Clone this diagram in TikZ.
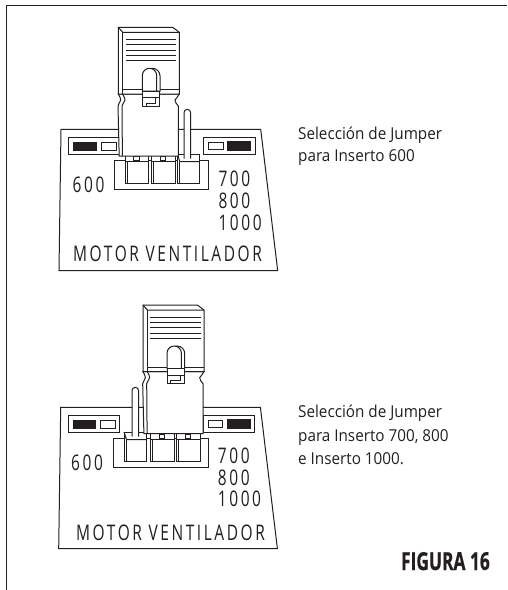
\documentclass[tikz,border=0pt]{standalone}
\usepackage{fontspec}
\setmainfont{Open Sans}
\newfontfamily\labelfont[FakeStretch=0.72,LetterSpace=12]{Open Sans}
\newfontfamily\notefont[FakeStretch=0.93]{Open Sans}
\newfontfamily\figfont[FakeStretch=0.70,BoldFeatures={FakeBold=0.6}]{Open Sans}
\definecolor{ink}{HTML}{231F20}
\tikzset{
  ln/.style={draw=ink,line width=1pt,line join=miter},
  thin ln/.style={draw=ink,line width=0.8pt},
  heavy/.style={draw=ink,line width=1.4pt},
  wf/.style={ln,fill=white},
  blk/.style={fill=ink,draw=ink,line width=0.7pt},
  boardtxt/.style={inner sep=0pt,anchor=base west,text=ink,font=\labelfont\fontsize{21.5}{21.5}\selectfont},
  note/.style={inner sep=0pt,anchor=base west,text=ink,font=\notefont\fontsize{16.4}{18}\selectfont},
}
\newcommand{\plainblock}[1]{%
  \begin{scope}[shift={(#1,0)}]
    \path[wf] (0,155) rectangle (23.5,183.3);
    \draw[ln] (2.2,161) -- (2.2,183.3);
    \draw[ln] (0,161) -- (23.5,161);
    \path[wf] (8.5,156.5) rectangle (14,160);
  \end{scope}}
% #1 block x, #2 pin x inside the block
\newcommand{\pinblock}[2]{%
  \begin{scope}[shift={(#1,0)}]
    \path[wf] (0,154) -- (22,154) -- (22,183.3) -- (0,183.3) -- cycle;
    \draw[ln] (0,154) -- (2.5,161.5) -- (22,161.5);
    \draw[ln] (2.5,161.5) -- (2.5,183.3);
    \path[wf] (#2,158.5) -- (#2,112.6) arc[start angle=180,end angle=360,radius=3.3] -- ++(0,45.9);
  \end{scope}}
\newcommand{\jumper}[1]{%
  \begin{scope}[shift={(#1)}]
    % lower body
    \path[wf] (118.3,94) .. controls (119,97) and (121.5,98) .. (120.7,100)
       .. controls (120,103) and (118,104) .. (118,106) -- (119.2,156) -- (178.3,156)
       -- (178.3,106) .. controls (177,104) and (174.5,102) .. (175,100)
       .. controls (175.5,98) and (178.5,97) .. (179.3,94) -- cycle;
    \draw[ln] (122.7,94) .. controls (123.4,97) and (125.5,98) .. (125,100)
       .. controls (124.5,103) and (122,104) .. (122,106) -- (122.4,156);
    % upper body
    \path[wf] (118.3,27.3) -- (172.7,27.3) -- (179.3,32.3) -- (179.3,94) -- (118.3,94) -- cycle;
    \draw[ln] (118.3,27.3) -- (122.7,32.3) -- (179.3,32.3);
    \draw[ln] (122.7,32.3) -- (122.7,94);
    \draw[ln] (122.7,89.3) -- (179.3,89.3);
    \foreach \yy in {39.3,44.7,50,55.3,60.7}
      \draw[thin ln] (125.7,\yy) -- (176.3,\yy);
    % loop
    \path[wf] (145,91) -- (145,75.8) arc[start angle=180,end angle=360,radius=7.5] -- (160,91) -- cycle;
    \path[wf] (142.3,91) -- (142.3,75.5) arc[start angle=180,end angle=360,radius=7.2] -- (156.7,91) -- cycle;
    % tab
    \path[wf] (142.7,91) rectangle (159.3,106);
    \draw[ln] (142.7,97.3) -- (159.3,97.3);
    \draw[ln] (155.5,97.3) -- (155.5,103) -- (146,103) -- (146,106);
  \end{scope}}
\newcommand{\boardbase}[1]{%
  \begin{scope}[shift={(#1)}]
    \path[wf] (61,129.3) -- (260.7,129.3) -- (277.7,270.7) -- (59,270.7) -- cycle;
    \path[wf] (68.3,137.7) rectangle (120,154);
    \path[blk] (73.3,142.3) rectangle (96,150);
    \draw[ln] (101,142.3) rectangle (116,150);
    \path[wf] (203.3,137.7) rectangle (255,154);
    \draw[ln] (208.3,142.3) rectangle (223,149.3);
    \path[blk] (227.7,141.7) rectangle (250.7,150);
    \path[wf] (114,160) rectangle (208.3,189.3);
  \end{scope}}
\begin{document}
\begin{tikzpicture}[x=1pt,y=-1pt]
\useasboundingbox (0,0) rectangle (507,590);
\fill[white] (0,0) rectangle (507,590);
\draw[heavy] (6.5,590) -- (6.5,5.3) -- (507,5.3);

% upper panel
\boardbase{0,0}
\plainblock{125}
\plainblock{151.7}
\pinblock{177.3}{6.7}
\jumper{0,0}
\node[boardtxt] (a600) at (72.5,192.5) {600};
\node[boardtxt] (a700) at (218.3,186.7) {700};
\node[boardtxt] (a800) at (218.3,208.3) {800};
\node[boardtxt] (a1000) at (218.3,230) {1000};
\node[boardtxt] (amotor) at (73,261.7) {MOTOR VENTILADOR};
\node[note] (anote1) at (298,139) {Selección de Jumper};
\node[note] (anote2) at (298,161.5) {para Inserto 600};

% lower panel
\begin{scope}[shift={(-0.3,278)}]
\boardbase{0,0}
\end{scope}
\begin{scope}[shift={(0,278)}]
\pinblock{124}{8}
\plainblock{150.5}
\plainblock{176.5}
\end{scope}
\jumper{24.7,277.7}
\node[boardtxt] (b600) at (71,470.7) {600};
\node[boardtxt] (b700) at (217.7,463.3) {700};
\node[boardtxt] (b800) at (217.7,485) {800};
\node[boardtxt] (b1000) at (217.7,506.7) {1000};
\node[boardtxt] (bmotor) at (76,540) {MOTOR VENTILADOR};
\node[note] (bnote1) at (298,417.5) {Selección de Jumper};
\node[note] (bnote2) at (298,441) {para Inserto 700, 800};
\node[note] (bnote3) at (298,464) {e Inserto 1000.};

\node[inner sep=0pt,anchor=base east,text=ink,font=\figfont\bfseries\fontsize{24.8}{24.8}\selectfont] (fig) at (490,570) {FIGURA 16};
\end{tikzpicture}
\end{document}
